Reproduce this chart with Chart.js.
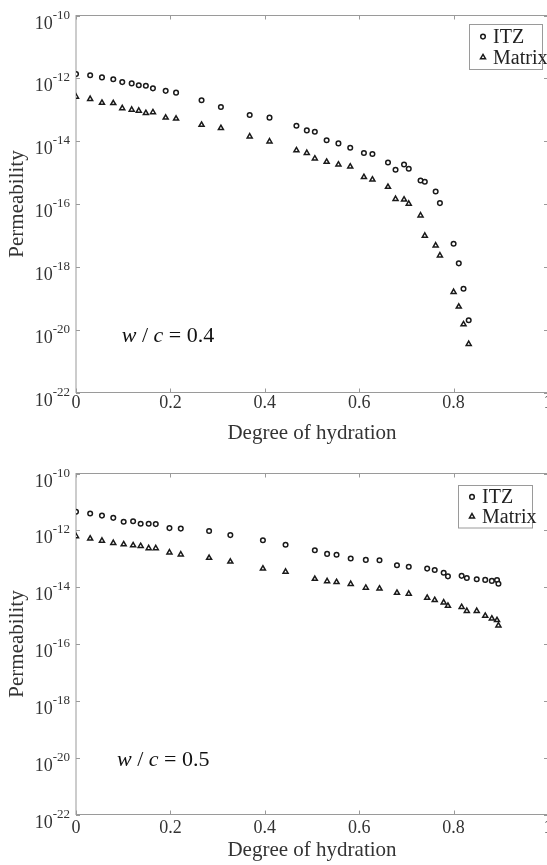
<!DOCTYPE html>
<html lang="en">
<head>
<meta charset="UTF-8">
<title>Permeability vs degree of hydration</title>
<script src="https://cdn.jsdelivr.net/npm/chart.js@4.4.0/dist/chart.umd.min.js"></script>
<style>
  html, body { margin: 0; padding: 0; background: #fff; overflow: hidden; }
  body { width: 547px; height: 865px; position: relative; }
  canvas { position: absolute; left: 0; }
  #chart04 { top: 0; }
  #chart05 { top: 450px; }
</style>
</head>
<body>
<canvas id="chart04" width="560" height="450"></canvas>
<canvas id="chart05" width="560" height="415"></canvas>
<script>
// tick values
var xTicks = [0, 0.2, 0.4, 0.6, 0.8, 1];
var yTickPowers = [-22, -20, -18, -16, -14, -12, -10];

// w/c = 0.4
var hydration04 = [0, 0.030, 0.055, 0.079, 0.098, 0.118, 0.133, 0.148, 0.163, 0.190, 0.212, 0.266, 0.307, 0.368, 0.410,
  0.467, 0.489, 0.506, 0.531, 0.556, 0.581, 0.610, 0.628, 0.661, 0.677, 0.695, 0.705, 0.730, 0.739, 0.762, 0.771,
  0.800, 0.811, 0.821, 0.832];
var itz04 = [1.38e-12, 1.26e-12, 1.07e-12, 9.3e-13, 7.6e-13, 6.9e-13, 6.0e-13, 5.8e-13, 4.8e-13, 4.0e-13, 3.5e-13,
  2.0e-13, 1.23e-13, 6.8e-14, 5.6e-14, 3.1e-14, 2.2e-14, 2.0e-14, 1.07e-14, 8.5e-15, 6.2e-15, 4.2e-15, 3.9e-15,
  2.1e-15, 1.23e-15, 1.8e-15, 1.32e-15, 5.6e-16, 5.1e-16, 2.5e-16, 1.07e-16, 5.4e-18, 1.29e-18, 2.0e-19, 2.0e-20];
var matrix04 = [2.6e-13, 2.2e-13, 1.66e-13, 1.62e-13, 1.12e-13, 1.0e-13, 9.3e-14, 7.8e-14, 8.3e-14, 5.6e-14, 5.2e-14,
  3.3e-14, 2.6e-14, 1.41e-14, 9.8e-15, 5.1e-15, 4.2e-15, 2.8e-15, 2.2e-15, 1.8e-15, 1.55e-15, 7.2e-16, 6.0e-16,
  3.5e-16, 1.45e-16, 1.38e-16, 1.02e-16, 4.3e-17, 9.8e-18, 4.8e-18, 2.3e-18, 1.58e-19, 5.4e-20, 1.48e-20, 3.5e-21];

// w/c = 0.5
var hydration05 = [0, 0.030, 0.055, 0.079, 0.101, 0.121, 0.137, 0.154, 0.169, 0.198, 0.222, 0.282, 0.327, 0.396, 0.444,
  0.506, 0.532, 0.552, 0.582, 0.614, 0.643, 0.680, 0.705, 0.744, 0.760, 0.779, 0.788, 0.817, 0.828, 0.849, 0.867,
  0.881, 0.892, 0.895];
var itz05 = [4.5e-12, 3.9e-12, 3.3e-12, 2.75e-12, 2.0e-12, 2.1e-12, 1.7e-12, 1.7e-12, 1.66e-12, 1.2e-12, 1.15e-12,
  9.5e-13, 6.8e-13, 4.5e-13, 3.1e-13, 2.0e-13, 1.48e-13, 1.38e-13, 1.02e-13, 9.1e-14, 8.9e-14, 5.9e-14, 5.2e-14,
  4.5e-14, 4.0e-14, 3.2e-14, 2.4e-14, 2.5e-14, 2.1e-14, 1.9e-14, 1.8e-14, 1.66e-14, 1.78e-14, 1.32e-14];
var matrix05 = [6.2e-13, 5.1e-13, 4.3e-13, 3.6e-13, 3.2e-13, 2.95e-13, 2.8e-13, 2.35e-13, 2.35e-13, 1.66e-13, 1.41e-13,
  1.07e-13, 7.9e-14, 4.5e-14, 3.5e-14, 1.95e-14, 1.62e-14, 1.51e-14, 1.29e-14, 9.5e-15, 8.9e-15, 6.3e-15, 5.9e-15,
  4.2e-15, 3.5e-15, 2.9e-15, 2.2e-15, 2.0e-15, 1.45e-15, 1.45e-15, 9.8e-16, 7.8e-16, 6.9e-16, 4.5e-16];

var FONT = '"Liberation Serif", "Times New Roman", serif';
var TEXT = '#333333';
var AXIS = '#9a9a9a';
var MARK = '#1a1a1a';

function drawMarker(ctx, style, x, y) {
  ctx.save();
  ctx.strokeStyle = MARK;
  ctx.fillStyle = '#ffffff';
  ctx.lineWidth = 1.5;
  ctx.beginPath();
  if (style === 'circle') {
    ctx.arc(x, y, 2.3, 0, Math.PI * 2);
  } else {
    var r = 2.9;
    ctx.moveTo(x, y - r);
    ctx.lineTo(x + r * 0.866, y + r * 0.5);
    ctx.lineTo(x - r * 0.866, y + r * 0.5);
    ctx.closePath();
  }
  ctx.fill();
  ctx.stroke();
  ctx.restore();
}

var framePlugin = {
  id: 'frame',
  beforeDatasetsDraw: function (chart) {
    var ctx = chart.ctx, a = chart.chartArea;
    var xs = chart.scales.x, ys = chart.scales.y;
    var o = chart.options.plugins.frame;
    ctx.save();
    // box
    ctx.strokeStyle = AXIS;
    ctx.lineWidth = 1;
    ctx.strokeRect(a.left, a.top, a.right - a.left, a.bottom - a.top);
    // inward ticks
    ctx.beginPath();
    xTicks.forEach(function (v) {
      var px = Math.round(xs.getPixelForValue(v)) + 0.5;
      ctx.moveTo(px, a.bottom); ctx.lineTo(px, a.bottom - 4);
      ctx.moveTo(px, a.top); ctx.lineTo(px, a.top + 4);
    });
    yTickPowers.forEach(function (p) {
      var py = Math.round(ys.getPixelForValue(Math.pow(10, p))) + 0.5;
      ctx.moveTo(a.left, py); ctx.lineTo(a.left + 4, py);
      ctx.moveTo(a.right, py); ctx.lineTo(a.right - 4, py);
    });
    ctx.stroke();
    // y tick labels: 10 with superscript exponent
    ctx.fillStyle = TEXT;
    ctx.textAlign = 'left';
    ctx.textBaseline = 'alphabetic';
    yTickPowers.forEach(function (p) {
      var py = ys.getPixelForValue(Math.pow(10, p));
      var exp = String(p);
      ctx.font = '13px ' + FONT;
      var ew = ctx.measureText(exp).width;
      ctx.font = '18px ' + FONT;
      var bw = ctx.measureText('10').width;
      var right = a.left - 6;
      ctx.fillText('10', right - ew - bw, py + 13);
      ctx.font = '13px ' + FONT;
      ctx.fillText(exp, right - ew, py + 3);
    });
    // w / c annotation
    var nx = xs.getPixelForValue(o.noteX);
    var ny = ys.getPixelForValue(o.noteY);
    var parts = [['w', true], [' / ', false], ['c', true], [' = ', false], [o.ratio, false]];
    ctx.fillStyle = '#111111';
    parts.forEach(function (pt) {
      ctx.font = (pt[1] ? 'italic ' : '') + '22px ' + FONT;
      ctx.fillText(pt[0], nx, ny);
      nx += ctx.measureText(pt[0]).width;
    });
    ctx.restore();
  },
  afterDatasetsDraw: function (chart) {
    var ctx = chart.ctx, a = chart.chartArea;
    var o = chart.options.plugins.frame;
    var bx = a.right - o.legRight - o.legW, by = a.top + o.legTop;
    ctx.save();
    ctx.fillStyle = '#ffffff';
    ctx.fillRect(bx, by, o.legW, o.legH);
    ctx.strokeStyle = AXIS;
    ctx.lineWidth = 1;
    ctx.strokeRect(Math.round(bx) + 0.5, Math.round(by) + 0.5, o.legW, o.legH);
    ctx.font = '20px ' + FONT;
    ctx.fillStyle = '#222222';
    ctx.textBaseline = 'middle';
    ctx.textAlign = 'left';
    chart.data.datasets.forEach(function (ds, i) {
      var cy = by + o.legH * (i === 0 ? 0.28 : 0.74);
      drawMarker(ctx, ds.pointStyle, bx + 14, cy);
      ctx.fillText(ds.label, bx + 24, cy + 1);
    });
    ctx.restore();
  }
};

function points(xs, ys) {
  return xs.map(function (v, i) { return { x: v, y: ys[i] }; });
}

function makeChart(id, hyd, itz, mat, cfg) {
  return new Chart(document.getElementById(id), {
    type: 'scatter',
    data: {
      datasets: [
        { label: 'ITZ', data: points(hyd, itz), pointStyle: 'circle', pointRadius: 2.3,
          borderColor: MARK, backgroundColor: '#ffffff', borderWidth: 1.5 },
        { label: 'Matrix', data: points(hyd, mat), pointStyle: 'triangle', pointRadius: 2.9,
          borderColor: MARK, backgroundColor: '#ffffff', borderWidth: 1.5 }
      ]
    },
    options: {
      responsive: false,
      animation: false,
      devicePixelRatio: 1,
      layout: { padding: { left: 0, right: 12, top: cfg.padTop, bottom: 0 } },
      plugins: {
        legend: { display: false },
        tooltip: { enabled: false },
        frame: cfg.frame
      },
      scales: {
        x: {
          type: 'linear', min: 0, max: 1,
          afterFit: function (s) { s.height = cfg.xHeight; },
          afterBuildTicks: function (s) { s.ticks = xTicks.map(function (v) { return { value: v }; }); },
          grid: { display: false, drawTicks: false },
          border: { display: false },
          ticks: {
            padding: cfg.tickPad, maxRotation: 0, autoSkip: false, color: TEXT,
            font: { family: FONT, size: 18 },
            callback: function (v) { return Math.abs(v - Math.round(v)) < 1e-9 ? String(Math.round(v)) : v.toFixed(1); }
          },
          title: { display: true, text: 'Degree of hydration', color: TEXT,
            font: { family: FONT, size: 21 }, padding: { top: 0, bottom: cfg.titlePad } }
        },
        y: {
          type: 'logarithmic', min: 1e-22, max: 1e-10,
          afterFit: function (s) { s.width = 76; },
          grid: { display: false, drawTicks: false },
          border: { display: false },
          ticks: { display: false },
          title: { display: true, text: 'Permeability', color: TEXT,
            font: { family: FONT, size: 21 }, padding: { top: 5, bottom: 0 } }
        }
      }
    },
    plugins: [framePlugin]
  });
}

makeChart('chart04', hydration04, itz04, matrix04, {
  padTop: 15.5, xHeight: 57.5, tickPad: 0, titlePad: 4,
  frame: { ratio: '0.4', noteX: 0.097, noteY: 4.1e-21, legRight: 6, legTop: 8.5, legW: 73, legH: 45 }
});
makeChart('chart05', hydration05, itz05, matrix05, {
  padTop: 23.5, xHeight: 50.5, tickPad: 3, titlePad: 2,
  frame: { ratio: '0.5', noteX: 0.087, noteY: 5.0e-21, legRight: 16, legTop: 11.5, legW: 74, legH: 42.5 }
});
</script>
</body>
</html>
